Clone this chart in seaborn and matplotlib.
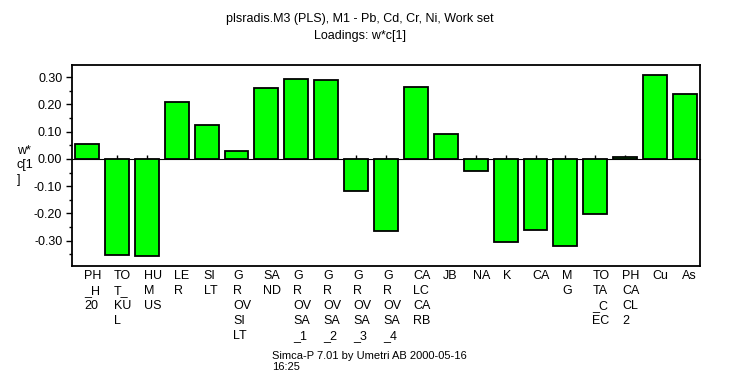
import matplotlib
matplotlib.use("Agg")
import matplotlib.pyplot as plt
import matplotlib.transforms as mtransforms
from matplotlib.ticker import MultipleLocator, FormatStrFormatter
import seaborn as sns

fontsize = 9

# loadings w*c[1] per variable
variables = ["PH_H20", "TOT_KUL", "HUMUS", "LER", "SILT", "GROVSILT", "SAND",
             "GROVSA_1", "GROVSA_2", "GROVSA_3", "GROVSA_4", "CALCARB", "JB",
             "NA", "K", "CA", "MG", "TOTA_CEC", "PHCACL2", "Cu", "As"]
loadings = [0.054, -0.354, -0.358, 0.208, 0.124, 0.029, 0.260,
            0.293, 0.289, -0.119, -0.266, 0.264, 0.091,
            -0.045, -0.306, -0.262, -0.321, -0.203, 0.006, 0.308, 0.238]
# labels wrapped the way Simca prints them under the bars
tick_labels = ["PH\n_H\n20", "TO\nT_\nKU\nL", "HU\nM\nUS", "LE\nR", "SI\nLT",
               "G\nR\nOV\nSI\nLT", "SA\nND", "G\nR\nOV\nSA\n_1", "G\nR\nOV\nSA\n_2",
               "G\nR\nOV\nSA\n_3", "G\nR\nOV\nSA\n_4", "CA\nLC\nCA\nRB", "JB",
               "NA", "K", "CA", "M\nG", "TO\nTA\n_C\nEC", "PH\nCA\nCL\n2", "Cu", "As"]

plt.rcParams["font.family"] = ["Liberation Sans", "DejaVu Sans"]
plt.rcParams["axes.unicode_minus"] = False

fig = plt.figure(figsize=(7.49, 3.73), dpi=100)
ax = fig.add_axes([0.0961, 0.2869, 0.8385, 0.5389])

sns.barplot(x=variables, y=loadings, color="#00ff00", saturation=1,
            edgecolor="black", linewidth=1.3, width=0.8, ax=ax)

ymin, ymax = -0.393, 0.345
ax.set_ylim(ymin, ymax)
ax.set_xlim(-0.5, len(variables) - 0.5)

for s in ax.spines.values():
    s.set_linewidth(1.3)

ax.yaxis.set_major_locator(MultipleLocator(0.1))
ax.yaxis.set_minor_locator(MultipleLocator(0.05))
ax.yaxis.set_major_formatter(FormatStrFormatter("%.2f"))
ax.tick_params(axis="y", which="major", length=4, width=1, labelsize=fontsize, pad=3)
ax.tick_params(axis="y", which="minor", length=2, width=1)

ax.set_xticks(range(len(variables)))
ax.set_xticklabels(tick_labels, ha="left", va="top", fontsize=fontsize, linespacing=1.32)
ax.tick_params(axis="x", length=0, pad=3)
shift = mtransforms.ScaledTranslation(-3 / 100, 0, fig.dpi_scale_trans)
for lbl in ax.get_xticklabels():
    lbl.set_transform(lbl.get_transform() + shift)

# zero line with small ticks at each variable
zero = ax.secondary_xaxis((0 - ymin) / (ymax - ymin))
zero.spines["bottom"].set_linewidth(1.5)
zero.set_xticks(range(len(variables)))
zero.set_xticklabels([])
zero.tick_params(axis="x", direction="out", length=3, width=1)

ax.set_ylabel("w*\nc[1\n]", rotation=0, ha="left", va="center",
              fontsize=fontsize, linespacing=1.25)
ax.yaxis.set_label_coords(-0.0876, 0.50)

fig.text(0.4806, 0.949, "plsradis.M3 (PLS), M1 - Pb, Cd, Cr, Ni, Work set",
         ha="center", va="center", fontsize=fontsize)
fig.text(0.4806, 0.9035, "Loadings: w*c[1]", ha="center", va="center", fontsize=fontsize)
fig.text(0.363, 0.058, "Simca-P 7.01 by Umetri AB 2000-05-16\n16:25",
         ha="left", va="top", fontsize=fontsize - 1, linespacing=1.05)

fig.savefig("out.png", dpi=100)
